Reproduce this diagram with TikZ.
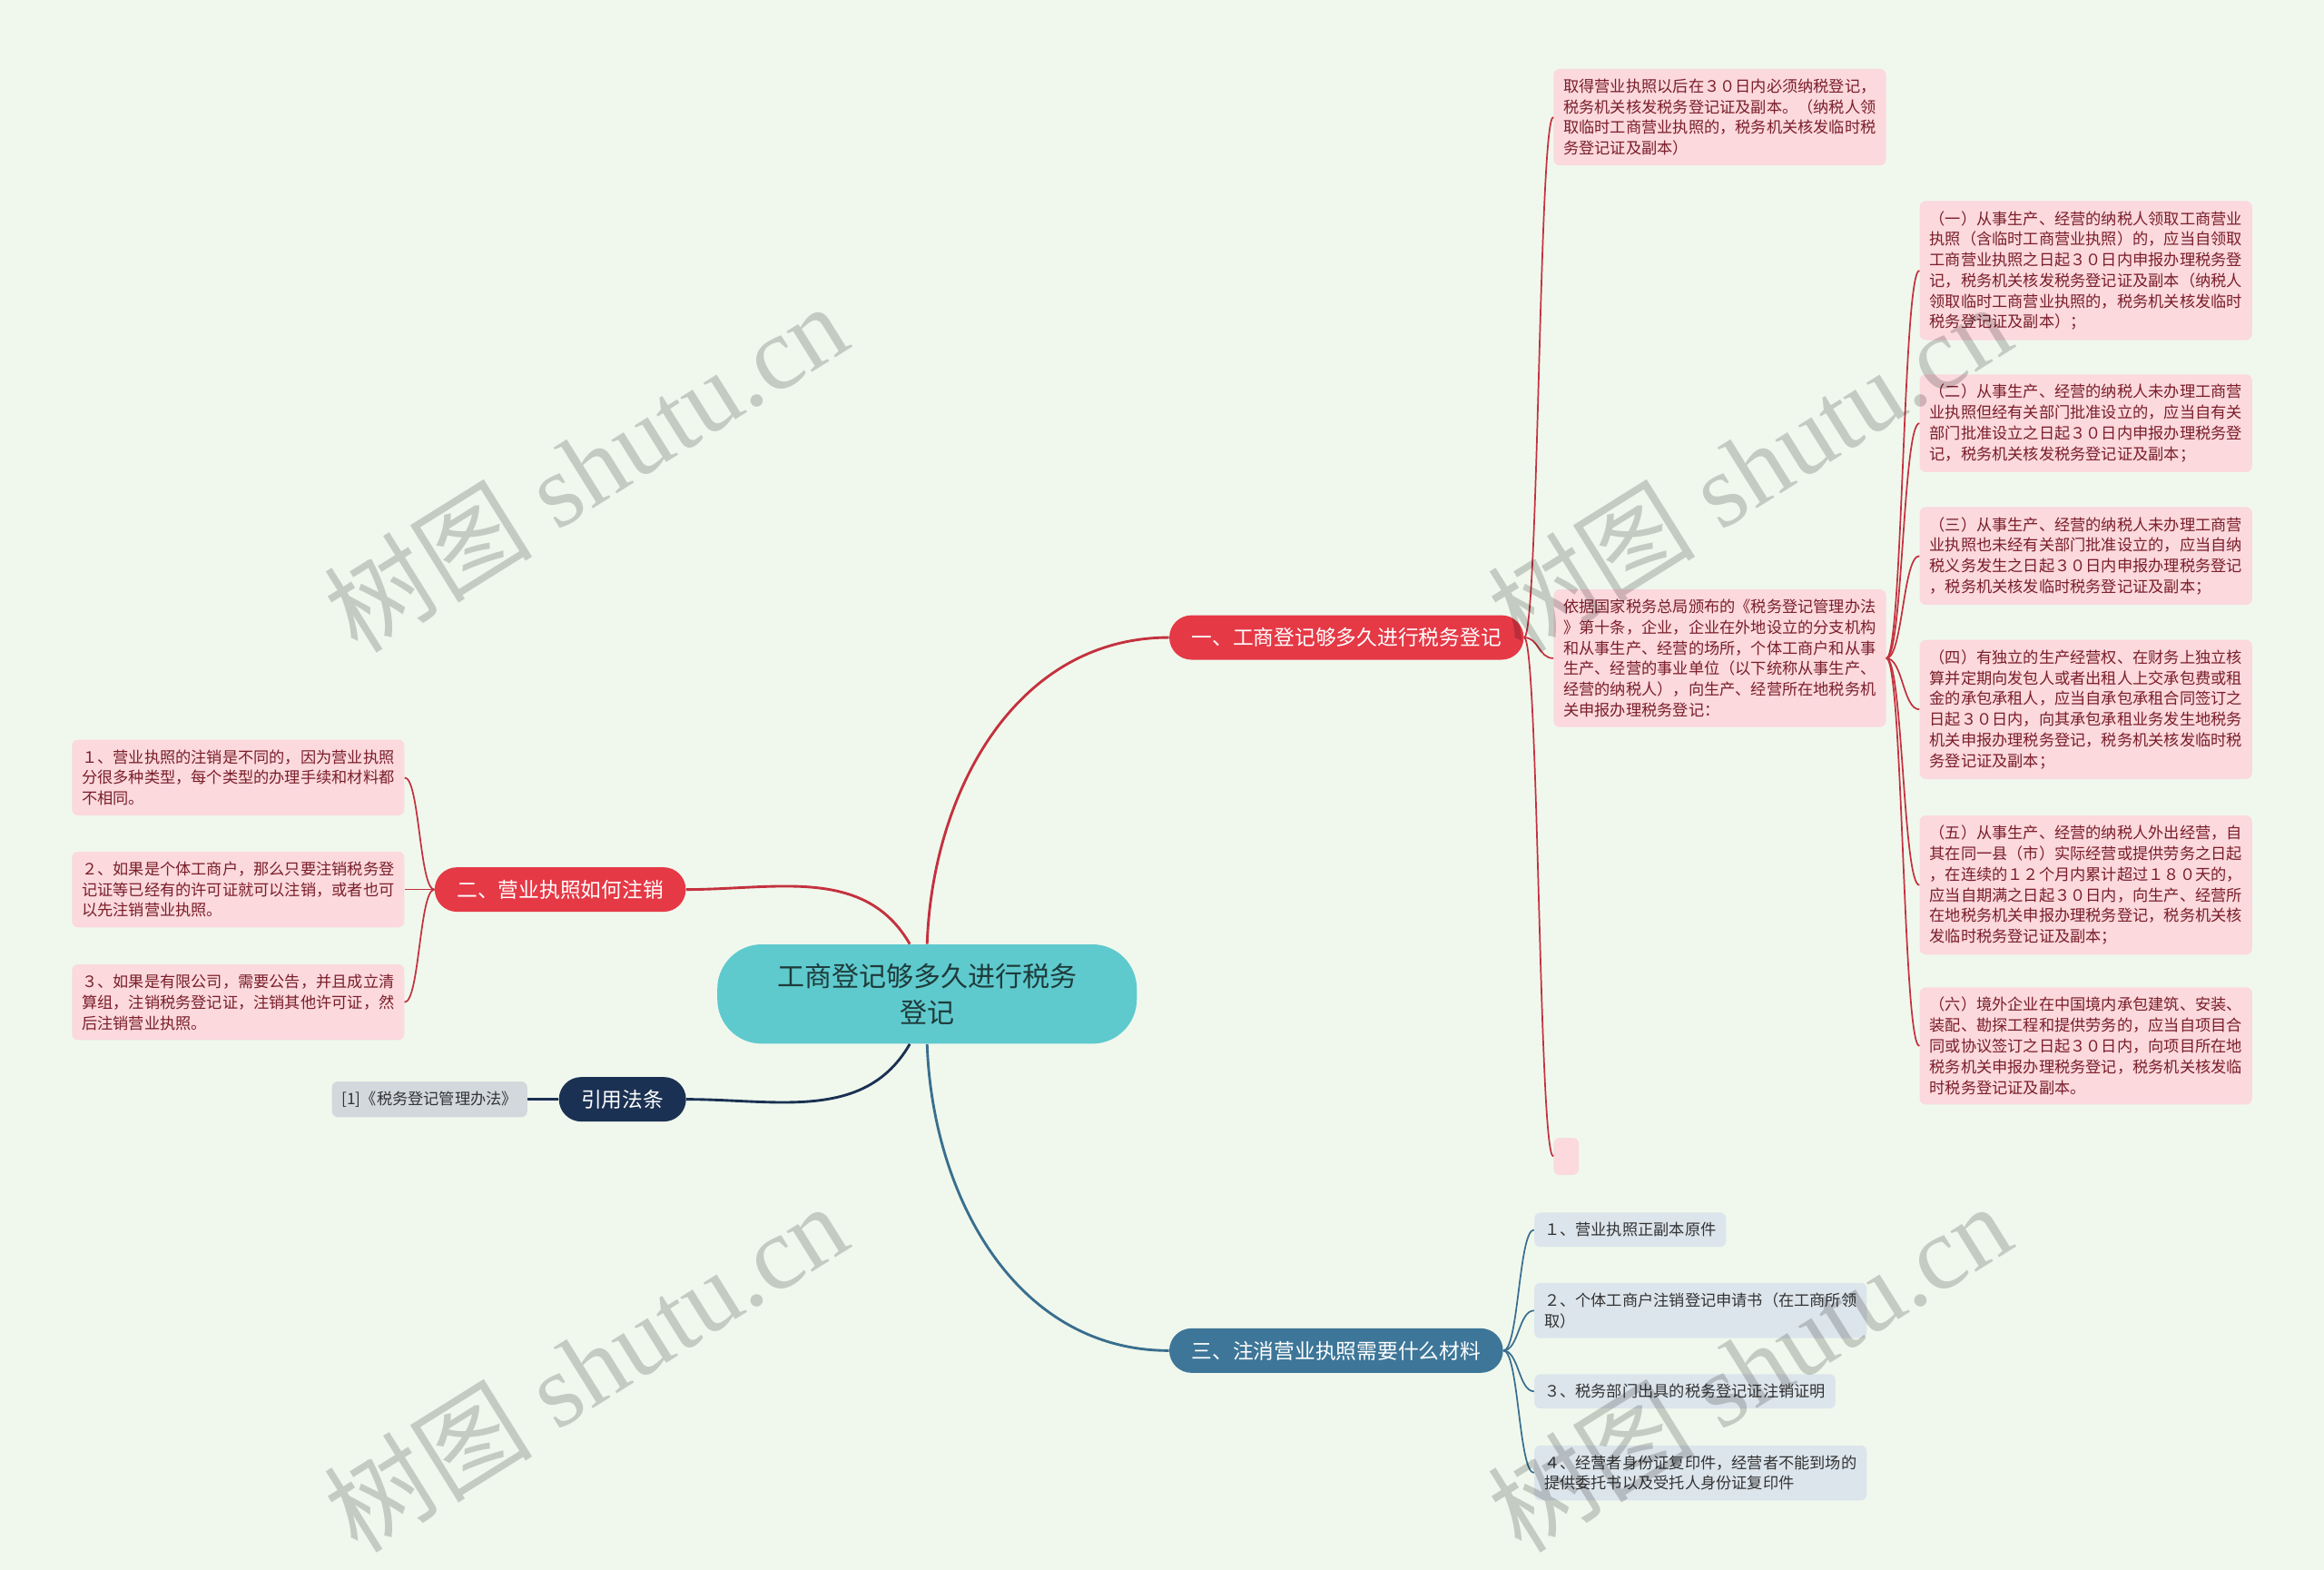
\documentclass[tikz,border=0pt]{standalone}
\usepackage{fontspec}
\setmainfont{Noto Sans CJK SC}
\newfontfamily\wmlatin{Liberation Serif}
\usetikzlibrary{calc,positioning}
\definecolor{bgx}{HTML}{F0F8ED}
\definecolor{redx}{HTML}{E53946}
\definecolor{redln}{HTML}{C4313E}
\definecolor{pinkx}{HTML}{FBD9DD}
\definecolor{maroon}{HTML}{7A1E2A}
\definecolor{bluex}{HTML}{3D7698}
\definecolor{blueln}{HTML}{3A6E8E}
\definecolor{bluebg}{HTML}{DCE5EC}
\definecolor{navyx}{HTML}{1B3153}
\definecolor{cyanx}{HTML}{5FCACD}
\definecolor{cyantxt}{HTML}{1E3B3B}
\definecolor{greybg}{HTML}{D3D8DD}
\tikzset{
  pill/.style={rounded corners=0.45cm,minimum height=0.9cm,inner xsep=0.45cm,text=white,font=\fontsize{11.9}{14}\selectfont},
  pbox/.style={fill=pinkx,rounded corners=0.12cm,inner sep=0.2cm,align=left,text=maroon,font=\fontsize{9}{11.9}\selectfont},
  bbox/.style={pbox,fill=bluebg,text=black!80},
  trunk/.style={line width=1.5pt},
  twig/.style={line width=0.9pt},
  wm/.style={rotate=32,text=black,opacity=0.18,font=\fontsize{60}{60}\selectfont}
}
% elbow curve: horizontal out, horizontal in
\newcommand{\elb}[3]{%
  \path (#2) -- (#3) coordinate[pos=0.5] (mid);
  \draw[#1] (#2) .. controls (mid |- #2) and (mid |- #3) .. (#3);}

\begin{document}
\begin{tikzpicture}[x=0.03cm,y=-0.03cm]
\fill[bgx] (0,0) rectangle (1568,1059);
\useasboundingbox (0,0) rectangle (1568,1059);
% centre and main branches
\node[fill=cyanx,rounded corners=0.9cm,minimum width=8.49cm,minimum height=2.01cm,align=center,text=cyantxt,font=\fontsize{15.7}{21.3}\selectfont] (c) at (625.5,670.5) {工商登记够多久进行税务\\登记};
\node[pill,fill=redx] (b1) at (908.5,430) {一、工商登记够多久进行税务登记};
\node[pill,fill=redx] (b2) at (378,600) {二、营业执照如何注销};
\node[pill,fill=navyx] (rf) at (420,741.5) {引用法条};
\node[pill,fill=bluex] (b3) at (901.5,911) {三、注消营业执照需要什么材料};
% branch one
\node[pbox,anchor=west] (t0) at (1048,79) {取得营业执照以后在３０日内必须纳税登记，\\%
税务机关核发税务登记证及副本。（纳税人领\\%
取临时工商营业执照的，税务机关核发临时税\\%
务登记证及副本）};
\node[pbox,anchor=west] (basis) at (1048,444) {依据国家税务总局颁布的《税务登记管理办法\\%
》第十条，企业，企业在外地设立的分支机构\\%
和从事生产、经营的场所，个体工商户和从事\\%
生产、经营的事业单位（以下统称从事生产、\\%
经营的纳税人），向生产、经营所在地税务机\\%
关申报办理税务登记：};
\node[pbox,anchor=west,inner sep=0pt,minimum width=0.51cm,minimum height=0.75cm] (blank) at (1048,780) {};
\node[pbox,anchor=west] (k1) at (1295,182.5) {（一）从事生产、经营的纳税人领取工商营业\\%
执照（含临时工商营业执照）的，应当自领取\\%
工商营业执照之日起３０日内申报办理税务登\\%
记，税务机关核发税务登记证及副本（纳税人\\%
领取临时工商营业执照的，税务机关核发临时\\%
税务登记证及副本）；};
\node[pbox,anchor=west] (k2) at (1295,285.5) {（二）从事生产、经营的纳税人未办理工商营\\%
业执照但经有关部门批准设立的，应当自有关\\%
部门批准设立之日起３０日内申报办理税务登\\%
记，税务机关核发税务登记证及副本；};
\node[pbox,anchor=west] (k3) at (1295,375) {（三）从事生产、经营的纳税人未办理工商营\\%
业执照也未经有关部门批准设立的，应当自纳\\%
税义务发生之日起３０日内申报办理税务登记\\%
，税务机关核发临时税务登记证及副本；};
\node[pbox,anchor=west] (k4) at (1295,478.5) {（四）有独立的生产经营权、在财务上独立核\\%
算并定期向发包人或者出租人上交承包费或租\\%
金的承包承租人，应当自承包承租合同签订之\\%
日起３０日内，向其承包承租业务发生地税务\\%
机关申报办理税务登记，税务机关核发临时税\\%
务登记证及副本；};
\node[pbox,anchor=west] (k5) at (1295,597) {（五）从事生产、经营的纳税人外出经营，自\\%
其在同一县（市）实际经营或提供劳务之日起\\%
，在连续的１２个月内累计超过１８０天的，\\%
应当自期满之日起３０日内，向生产、经营所\\%
在地税务机关申报办理税务登记，税务机关核\\%
发临时税务登记证及副本；};
\node[pbox,anchor=west] (k6) at (1295,705.5) {（六）境外企业在中国境内承包建筑、安装、\\%
装配、勘探工程和提供劳务的，应当自项目合\\%
同或协议签订之日起３０日内，向项目所在地\\%
税务机关申报办理税务登记，税务机关核发临\\%
时税务登记证及副本。};
% branch two
\node[pbox,anchor=east] (L1) at (273,524.5) {１、营业执照的注销是不同的，因为营业执照\\%
分很多种类型，每个类型的办理手续和材料都\\%
不相同。};
\node[pbox,anchor=east] (L2) at (273,600) {２、如果是个体工商户，那么只要注销税务登\\%
记证等已经有的许可证就可以注销，或者也可\\%
以先注销营业执照。};
\node[pbox,anchor=east] (L3) at (273,676) {３、如果是有限公司，需要公告，并且成立清\\%
算组，注销税务登记证，注销其他许可证，然\\%
后注销营业执照。};
% reference
\node[bbox,fill=greybg,anchor=east] (law) at (356,741.5) {[1]《税务登记管理办法》};
% branch three
\node[bbox,anchor=west] (m1) at (1035,829.5) {１、营业执照正副本原件};
\node[bbox,anchor=west] (m2) at (1035,884) {２、个体工商户注销登记申请书（在工商所领\\取）};
\node[bbox,anchor=west] (m3) at (1035,938.5) {３、税务部门出具的税务登记证注销证明};
\node[bbox,anchor=west] (m4) at (1035,993.5) {４、经营者身份证复印件，经营者不能到场的\\%
提供委托书以及受托人身份证复印件};
% connectors
\draw[redln,trunk] (c.north) to[out=88,in=180] (b1.west);
\draw[redln,trunk] ([xshift=-0.35cm]c.north) to[out=120,in=0] (b2.east);
\draw[navyx,trunk] ([xshift=-0.35cm]c.south) to[out=-120,in=0] (rf.east);
\draw[blueln,trunk] (c.south) to[out=-88,in=180] (b3.west);
\foreach \n in {t0,basis,blank} {\elb{redln,twig}{b1.east}{\n.west}}
\foreach \n in {k1,k2,k3,k4,k5,k6} {\elb{redln,twig}{basis.east}{\n.west}}
\foreach \n in {L1,L2,L3} {\elb{redln,twig}{b2.west}{\n.east}}
\draw[navyx,trunk] (rf.west) -- (law.east);
\foreach \n in {m1,m2,m3,m4} {\elb{blueln,twig}{b3.east}{\n.west}}
% watermarks
\foreach \x/\y in {395/315,1180/315,395/922,1180/922}
  \node[wm] at (\x,\y) {树图{\wmlatin\ shutu.cn}};
\end{tikzpicture}
\end{document}
